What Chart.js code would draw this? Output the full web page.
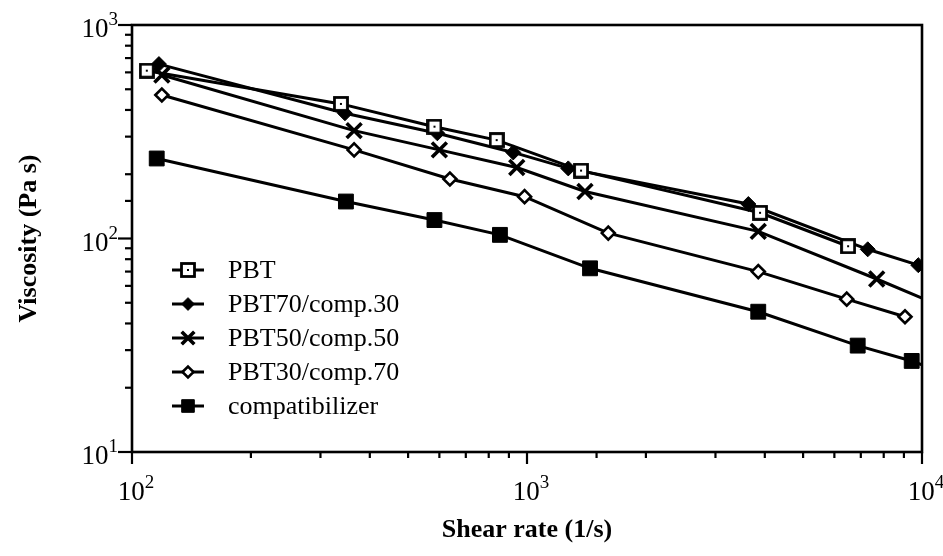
<!DOCTYPE html>
<html>
<head>
<meta charset="utf-8">
<script src="https://cdn.jsdelivr.net/npm/chart.js@4.4.0/dist/chart.umd.min.js"></script>
<style>
  html, body { margin: 0; padding: 0; background: #fff; }
</style>
</head>
<body>
<canvas id="chart" width="943" height="556"></canvas>
<script>
// values (shear rate 1/s, viscosity Pa s)
const seriesNames = ["PBT", "PBT70/comp.30", "PBT50/comp.50", "PBT30/comp.70", "compatibilizer"]

const pbtShear = [109, 338, 583, 838, 1370, 3890, 6500]
const pbtVisc = [611, 427, 334, 289, 208, 132, 92]

const pbt70Shear = [117, 346, 593, 923, 1272, 3634, 7288, 9786]
const pbt70Visc = [656, 386, 311, 253, 213, 145, 89, 75]

const pbt50Shear = [119, 365, 600, 942, 1402, 3850, 7679, 10000]
const pbt50Visc = [583, 320, 260, 215, 166, 108, 64.6, 52.6]

const pbt30Shear = [119, 365, 638, 986, 1606, 3850, 6448, 9057]
const pbt30Visc = [470, 260, 190, 157, 106, 70, 52, 43]

const compShear = [115.5, 348, 583, 854, 1444, 3850, 6874, 9418, 10000]
const compVisc = [237, 149, 122, 104, 72.5, 45.4, 31.5, 26.7, 25.6]

const serif = "'Liberation Serif', 'DejaVu Serif', serif"

function pts(xs, ys) {
  return xs.map((x, i) => ({x: x, y: ys[i]}))
}

// open square with a dot in the middle
function dotSquare() {
  const c = document.createElement("canvas")
  c.width = 16; c.height = 16
  const g = c.getContext("2d")
  g.fillStyle = "#fff"
  g.fillRect(1.5, 1.5, 13, 13)
  g.strokeStyle = "#000"
  g.lineWidth = 2.8
  g.strokeRect(1.5, 1.5, 13, 13)
  g.fillStyle = "#000"
  g.fillRect(7, 7, 2, 2)
  return c
}

// radius 0 for a point that only carries the line to the border
function radii(n, r, lastHidden) {
  return Array.from({length: n}, (_, i) => (lastHidden && i === n - 1) ? 0 : r)
}

const common = {
  borderColor: "#000",
  borderWidth: 3,
  pointBorderColor: "#000",
  tension: 0,
  showLine: true,
  fill: false
}

const datasets = [
  Object.assign({}, common, {
    label: seriesNames[0], data: pts(pbtShear, pbtVisc),
    pointStyle: dotSquare(), pointRadius: 8
  }),
  Object.assign({}, common, {
    label: seriesNames[1], data: pts(pbt70Shear, pbt70Visc),
    pointStyle: "rectRot", pointRadius: 7.5, pointBackgroundColor: "#000", pointBorderWidth: 1
  }),
  Object.assign({}, common, {
    label: seriesNames[2], data: pts(pbt50Shear, pbt50Visc),
    pointStyle: "crossRot", pointRadius: radii(pbt50Shear.length, 10.5, true), pointBorderWidth: 3.6
  }),
  Object.assign({}, common, {
    label: seriesNames[3], data: pts(pbt30Shear, pbt30Visc),
    pointStyle: "rectRot", pointRadius: 6.5, pointBackgroundColor: "#fff", pointBorderWidth: 2.6
  }),
  Object.assign({}, common, {
    label: seriesNames[4], data: pts(compShear, compVisc),
    pointStyle: "rect", pointRadius: radii(compShear.length, 10.5, true), pointBackgroundColor: "#000", pointBorderWidth: 1
  })
]

function isDecade(v) {
  const l = Math.log10(v)
  return Math.abs(l - Math.round(l)) < 1e-6
}

// "10" with a raised exponent
function powerLabel(ctx, exp, x, y, align) {
  ctx.font = "27px " + serif
  const w1 = ctx.measureText("10").width
  ctx.font = "19px " + serif
  const w2 = ctx.measureText(String(exp)).width
  const total = w1 + w2
  let left = x
  if (align === "center") left = x - total / 2
  if (align === "right") left = x - total
  ctx.textAlign = "left"
  ctx.textBaseline = "alphabetic"
  ctx.font = "27px " + serif
  ctx.fillText("10", left, y)
  ctx.font = "19px " + serif
  ctx.fillText(String(exp), left + w1, y - 12)
}

// frame, outward ticks (long at decades), tick labels and the legend inside the plot
const decor = {
  id: "decor",
  afterDraw(chart) {
    const ctx = chart.ctx
    const a = chart.chartArea
    ctx.save()
    ctx.strokeStyle = "#000"
    ctx.fillStyle = "#000"
    ctx.lineWidth = 2.6
    ctx.strokeRect(a.left, a.top, a.right - a.left, a.bottom - a.top)

    ctx.lineWidth = 2.2
    const xs = chart.scales.x, ys = chart.scales.y
    xs.ticks.forEach(t => {
      const px = xs.getPixelForValue(t.value)
      const major = isDecade(t.value)
      ctx.beginPath(); ctx.moveTo(px, a.bottom); ctx.lineTo(px, a.bottom + (major ? 12 : 6)); ctx.stroke()
      if (major) powerLabel(ctx, Math.round(Math.log10(t.value)), px + 4, a.bottom + 48, "center")
    })
    ys.ticks.forEach(t => {
      const py = ys.getPixelForValue(t.value)
      const major = isDecade(t.value)
      ctx.beginPath(); ctx.moveTo(a.left, py); ctx.lineTo(a.left - (major ? 14 : 7), py); ctx.stroke()
      if (major) powerLabel(ctx, Math.round(Math.log10(t.value)), a.left - 14, py + 12, "right")
    })

    // legend
    chart.data.datasets.forEach((ds, i) => {
      const y = a.top + 245 + i * 34
      const x0 = a.left + 40, x1 = a.left + 72
      ctx.lineWidth = 3
      ctx.strokeStyle = "#000"
      ctx.beginPath(); ctx.moveTo(x0, y); ctx.lineTo(x1, y); ctx.stroke()
      const r = Array.isArray(ds.pointRadius) ? ds.pointRadius[0] : ds.pointRadius
      ctx.fillStyle = ds.pointBackgroundColor || "#000"
      ctx.lineWidth = ds.pointBorderWidth || 1
      Chart.helpers.drawPoint(ctx, {
        pointStyle: ds.pointStyle, radius: r * 0.85, rotation: 0,
        borderWidth: ds.pointBorderWidth || 1
      }, (x0 + x1) / 2, y)
      ctx.fillStyle = "#000"
      ctx.font = "26px " + serif
      ctx.textAlign = "left"
      ctx.textBaseline = "middle"
      ctx.fillText(ds.label, a.left + 96, y + 1)
    })
    ctx.restore()
  }
}

const chart = new Chart("chart", {
  type: "scatter",
  data: {datasets: datasets},
  options: {
    responsive: false,
    animation: false,
    devicePixelRatio: 1,
    layout: {padding: {left: 14, top: 25, right: 21, bottom: 10}},
    plugins: {
      legend: {display: false},
      tooltip: {enabled: false}
    },
    scales: {
      x: {
        type: "logarithmic",
        min: 100, max: 10000,
        border: {display: false},
        grid: {drawOnChartArea: false, drawTicks: false, color: "rgba(0,0,0,0)"},
        ticks: {autoSkip: false, maxRotation: 0, callback: () => ""},
        title: {
          display: true, text: "Shear rate (1/s)", color: "#000",
          font: {family: serif, size: 26, weight: "bold"}, padding: 0
        },
        afterFit: s => { s.height = 94 }
      },
      y: {
        type: "logarithmic",
        min: 10, max: 1000,
        border: {display: false},
        grid: {drawOnChartArea: false, drawTicks: false, color: "rgba(0,0,0,0)"},
        ticks: {autoSkip: false, callback: () => ""},
        title: {
          display: true, text: "Viscosity (Pa s)", color: "#000",
          font: {family: serif, size: 26, weight: "bold"}, padding: 0
        },
        afterFit: s => { s.width = 118 }
      }
    }
  },
  plugins: [decor]
})
</script>
</body>
</html>
